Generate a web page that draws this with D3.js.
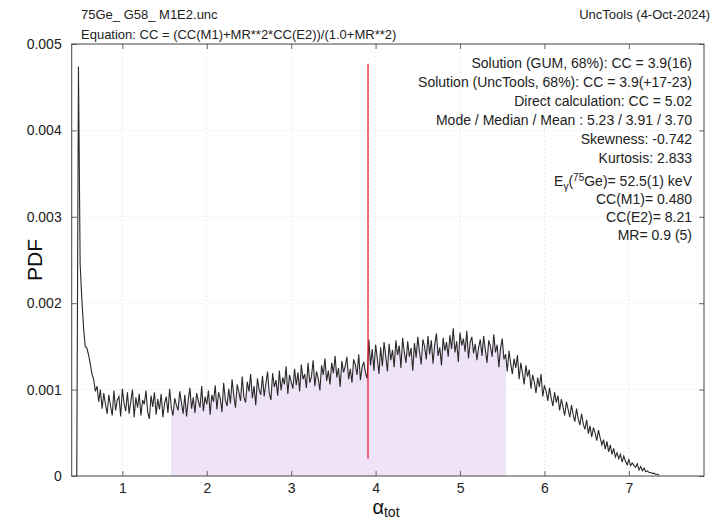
<!DOCTYPE html>
<html>
<head>
<meta charset="utf-8">
<script src="https://cdn.jsdelivr.net/npm/d3@7"></script>
<style>
  body { margin: 0; background: #fff; }
  svg { display: block; font-family: "Liberation Sans", Arial, sans-serif; }
</style>
</head>
<body>
<svg id="chart" width="716" height="521"></svg>
<script>
// histogram of the PDF: first bin centre, bin step, values in units of 1e-5
const binStart = 0.46;
const binStep = 0.02;
const pdfUnit = 1e-5;
const pdfValues = [
  0, 474, 245, 205, 172, 150, 148, 140, 130, 118,
  112, 98, 104, 86, 100, 78, 96, 83, 72, 94,
  81, 70, 99, 76, 88, 92, 69, 101, 84, 75,
  97, 72, 86, 100, 68, 91, 79, 95, 70, 88,
  83, 99, 74, 66, 93, 80, 97, 71, 89, 77,
  95, 68, 84, 92, 73, 101, 79, 70, 90, 82,
  76, 98, 85, 72, 94, 69, 88, 102, 78, 91,
  73, 96, 87, 79, 104, 75, 92, 83, 99, 71,
  94, 86, 105, 77, 97, 90, 74, 108, 88, 81,
  101, 84, 112, 93, 79, 106, 97, 87, 115, 91,
  85, 109, 98, 118, 90, 104, 82, 113, 100, 94,
  116, 92, 107, 121, 96, 88, 119, 103, 111, 93,
  122, 99, 114, 106, 127, 95, 117, 109, 101, 124,
  105, 120, 98, 129, 112, 118, 102, 131, 108, 115,
  134, 104, 121, 113, 99, 128, 117, 136, 110, 122,
  106, 131, 119, 139, 114, 125, 103, 133, 120, 127,
  138, 112, 124, 108, 135, 129, 117, 141, 111, 126,
  132, 119, 113, 158, 128, 147, 122, 152, 136, 118,
  149, 127, 155, 139, 121, 153, 134, 146, 126, 157,
  140, 151, 125, 160, 143, 131, 156, 138, 148, 122,
  154, 137, 161, 144, 129, 158, 150, 135, 162, 141,
  157, 130, 152, 165, 139, 149, 128, 160, 145, 155,
  138, 163, 147, 171, 143, 156, 132, 166, 151, 159,
  144, 168, 136, 155, 161, 142, 153, 134, 149, 158,
  139, 162, 146, 131, 157, 150, 138, 164, 143, 152,
  126, 148, 159, 135, 141, 121, 145, 130, 118, 136,
  125, 140, 112, 131, 119, 106, 128, 115, 123, 101,
  117, 109, 96, 114, 103, 118, 92, 105, 98, 87,
  102, 90, 81, 97, 85, 93, 76, 89, 80, 70,
  86, 77, 68, 82, 71, 63, 78, 66, 59, 72,
  60, 54, 65, 49, 58, 45, 56, 50, 41, 53,
  44, 36, 42, 31, 40, 28, 36, 25, 32, 22,
  27, 20, 25, 16, 23, 17, 13, 19, 12, 15,
  12, 10, 14, 7, 11, 6, 9, 5, 6, 4,
  4, 3, 3, 2, 2, 1
];

const xTicks = [1, 2, 3, 4, 5, 6, 7];
const yTicks = [0, 0.001, 0.002, 0.003, 0.004, 0.005];
const xDomain = [0.4, 7.89];
const yDomain = [0, 0.005];
const shadedRange = [1.577, 5.546];   // 68% interval
const medianValue = 3.91;
const medianLine = [0.0002, 0.00477];

const headerLeft = ["75Ge_ G58_ M1E2.unc", "Equation: CC = (CC(M1)+MR**2*CC(E2))/(1.0+MR**2)"];
const headerRight = "UncTools (4-Oct-2024)";
const statLines = [
  "Solution (GUM, 68%): CC = 3.9(16)",
  "Solution (UncTools, 68%): CC = 3.9(+17-23)",
  "Direct calculation: CC = 5.02",
  "Mode / Median / Mean : 5.23 / 3.91 / 3.70",
  "Skewness: -0.742",
  "Kurtosis: 2.833"
];
const inputLines = ["CC(M1)= 0.480", "CC(E2)= 8.21", "MR= 0.9 (5)"];

const points = pdfValues.map((v, i) => ({ x: binStart + i * binStep, y: v * pdfUnit }));

const svg = d3.select("#chart");
const margin = { left: 71.7, right: 704, top: 44, bottom: 476 };

const x = d3.scaleLinear().domain(xDomain).range([margin.left, margin.right]);
const y = d3.scaleLinear().domain(yDomain).range([margin.bottom, margin.top]);

// grid
svg.append("g").selectAll("line").data(xTicks).join("line")
  .attr("x1", d => x(d)).attr("x2", d => x(d))
  .attr("y1", margin.top).attr("y2", margin.bottom)
  .attr("stroke", "#ddd").attr("stroke-dasharray", "1,3");
svg.append("g").selectAll("line").data(yTicks.slice(1, -1)).join("line")
  .attr("x1", margin.left).attr("x2", margin.right)
  .attr("y1", d => y(d)).attr("y2", d => y(d))
  .attr("stroke", "#ddd").attr("stroke-dasharray", "1,3");

// shaded interval under the curve
svg.append("clipPath").attr("id", "band")
  .append("rect")
  .attr("x", x(shadedRange[0])).attr("y", margin.top)
  .attr("width", x(shadedRange[1]) - x(shadedRange[0]))
  .attr("height", margin.bottom - margin.top);

svg.append("path")
  .datum(points)
  .attr("clip-path", "url(#band)")
  .attr("fill", "#efe3f7")
  .attr("d", d3.area().x(d => x(d.x)).y0(y(0)).y1(d => y(d.y)));

// pdf curve
svg.append("path")
  .datum(points)
  .attr("fill", "none")
  .attr("stroke", "#2a2a2a")
  .attr("stroke-width", 1.1)
  .attr("d", d3.line().x(d => x(d.x)).y(d => y(d.y)));

// median line
svg.append("line")
  .attr("x1", x(medianValue)).attr("x2", x(medianValue))
  .attr("y1", y(medianLine[0])).attr("y2", y(medianLine[1]))
  .attr("stroke", "#e8141c").attr("stroke-width", 1.2);

// axes with inner ticks on all sides
const axisStyle = g => {
  g.select(".domain").remove();
  g.selectAll(".tick line").attr("stroke", "#666");
  g.selectAll("text").attr("fill", "#222").style("font-size", "14px")
    .style("font-family", "'Liberation Sans', Arial, sans-serif");
};
svg.append("g").attr("transform", `translate(0,${margin.bottom})`)
  .call(d3.axisBottom(x).tickValues(xTicks).tickSize(-5).tickPadding(7).tickFormat(d3.format("d")))
  .call(axisStyle);
svg.append("g").attr("transform", `translate(0,${margin.top})`)
  .call(d3.axisTop(x).tickValues(xTicks).tickSize(-5).tickFormat(""))
  .call(axisStyle);
svg.append("g").attr("transform", `translate(${margin.left},0)`)
  .call(d3.axisLeft(y).tickValues(yTicks).tickSize(-5).tickPadding(10).tickFormat(d => d === 0 ? "0" : d3.format(".3f")(d)))
  .call(axisStyle);
svg.append("g").attr("transform", `translate(${margin.right},0)`)
  .call(d3.axisRight(y).tickValues(yTicks).tickSize(-5).tickFormat(""))
  .call(axisStyle);

svg.append("rect")
  .attr("x", margin.left).attr("y", margin.top)
  .attr("width", margin.right - margin.left).attr("height", margin.bottom - margin.top)
  .attr("fill", "none").attr("stroke", "#444").attr("stroke-width", 1);

// header
svg.append("g").selectAll("text").data(headerLeft).join("text")
  .attr("x", 81).attr("y", (d, i) => 19 + i * 20)
  .style("font-size", "13px").attr("fill", "#222")
  .text(d => d);
svg.append("text").attr("x", 710).attr("y", 19).attr("text-anchor", "end")
  .style("font-size", "13px").attr("fill", "#222").text(headerRight);

// statistics box
const statX = 692;
svg.append("g").selectAll("text").data(statLines).join("text")
  .attr("x", statX).attr("y", (d, i) => 68 + i * 18.9)
  .attr("text-anchor", "end").style("font-size", "14px").attr("fill", "#222")
  .text(d => d);

const eg = svg.append("text").attr("x", statX).attr("y", 186)
  .attr("text-anchor", "end").style("font-size", "14px").attr("fill", "#222");
eg.append("tspan").text("E");
eg.append("tspan").attr("dy", 4).style("font-size", "10px").text("γ");
eg.append("tspan").attr("dy", -4).text("(");
eg.append("tspan").attr("dy", -5).style("font-size", "10px").text("75");
eg.append("tspan").attr("dy", 5).text("Ge)= 52.5(1) keV");

svg.append("g").selectAll("text").data(inputLines).join("text")
  .attr("x", statX).attr("y", (d, i) => 204 + i * 18)
  .attr("text-anchor", "end").style("font-size", "14px").attr("fill", "#222")
  .text(d => d);

// axis titles
svg.append("text")
  .attr("transform", `translate(42,${(margin.top + margin.bottom) / 2}) rotate(-90)`)
  .attr("text-anchor", "middle").style("font-size", "21px").attr("fill", "#111")
  .text("PDF");

const xt = svg.append("text").attr("x", 386).attr("y", 514)
  .attr("text-anchor", "middle").style("font-size", "20px").attr("fill", "#111");
xt.append("tspan").text("α");
xt.append("tspan").attr("dy", 3).style("font-size", "14px").text("tot");
</script>
</body>
</html>
